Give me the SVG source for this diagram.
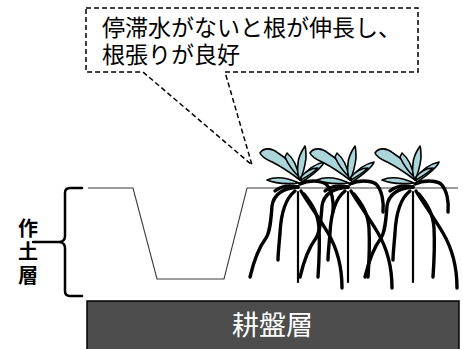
<svg xmlns="http://www.w3.org/2000/svg" xmlns:xlink="http://www.w3.org/1999/xlink" width="463" height="349" viewBox="0 0 463 349">
  <style>
    .callout { fill: #ffffff; stroke: #000000; stroke-width: 1.5; stroke-dasharray: 5 3; }
    .note { font-family: "Noto Sans CJK JP", "Noto Sans CJK SC", sans-serif; font-size: 23px; fill: #000000; }
    .side { font-family: "Noto Sans CJK JP", "Noto Sans CJK SC", sans-serif; font-size: 20px; font-weight: bold; fill: #000000; text-anchor: middle; }
    .pan-label { font-family: "Noto Sans CJK JP", "Noto Sans CJK SC", sans-serif; font-size: 27px; fill: #ffffff; text-anchor: middle; }
    .ground { fill: none; stroke: #3a3a3a; stroke-width: 1.1; }
    .brace { fill: none; stroke: #000000; stroke-width: 2.5; stroke-linecap: round; stroke-linejoin: round; }
    .root { fill: none; stroke: #000000; stroke-width: 3.4; stroke-linecap: round; }
    .root-thin { fill: none; stroke: #000000; stroke-width: 2.2; stroke-linecap: round; }
    .leaf { fill: #aad6da; stroke: #000000; stroke-width: 1.6; stroke-linejoin: round; }
  </style>
  <defs>
    <!-- one seedling, origin at the crown on the soil surface -->
    <g id="seedling">
      <g class="roots">
        <path class="root" d="M0,-1 C-12,0 -24,4 -26,18 C-27,32 -28,44 -32,50 C-38,58 -44,72 -48,89"/>
        <path class="root" stroke-width="5" d="M0,-1 C-8,-3 -17,-2 -23,3"/>
        <path class="root" d="M-3,3 C-12,10 -17,25 -18,45 C-19,58 -20,66 -20,72"/>
        <path class="root-thin" d="M0,4 V94"/>
        <path class="root" d="M3,3 C10,15 20,28 30,45 C40,62 44,80 44,100"/>
        <path class="root" d="M6,6 C14,16 20,25 21,40 C22,60 21,75 20,89"/>
        <path class="root" stroke-width="4.5" d="M2,-4 C10,-8 22,-8 28,-4 C34,2 36,14 35,24"/>
      </g>
      <g class="leaves">
        <path class="leaf" d="M-31,-8 C-22,-12 -10,-10 1,-5 C-10,-4 -22,-4 -31,-8 Z"/>
        <path class="leaf" d="M-38,-35 C-34,-41 -26,-40 -20,-35 C-12,-30 -4,-22 2,-14 L2,-8 C-6,-14 -14,-20 -24,-25 C-30,-28 -36,-30 -38,-35 Z"/>
        <path class="leaf" d="M-11,-35 C-5,-30 -1,-23 1,-11 C-5,-17 -10,-24 -13,-31 Z"/>
        <path class="leaf" d="M7,-42 C3,-36 0,-30 0,-24 C-1,-18 0,-12 2,-8 C5,-14 7,-22 8,-30 C8,-35 8,-39 7,-42 Z"/>
        <path class="leaf" d="M2,-9 C8,-17 16,-24 26,-26 C24,-20 16,-14 4,-6 Z"/>
        <path class="leaf" d="M3,-11 C8,-17 14,-20 20,-20 C16,-16 10,-12 3,-8 Z"/>
      </g>
    </g>
  </defs>

  <!-- soil surface with the open drainage ditch -->
  <path class="ground" d="M88,188 H133 L157,279 H224 L247,188 H458"/>

  <!-- hardpan layer -->
  <g id="hardpan">
    <rect x="87" y="301" width="372" height="52" fill="#4d4d4d" stroke="#000000" stroke-width="1.5"/>
    <text class="pan-label" x="272.5" y="335">耕盤層</text>
  </g>

  <!-- plough layer brace and label -->
  <g id="plough-layer">
    <path class="brace" d="M82,188 H70 Q65,188 65,193 V236 Q65,241 60,242 Q65,243 65,248 V291 Q65,296 70,296 H82"/>
    <path class="brace" d="M33,242 H60"/>
    <text class="side" x="28" y="236">作</text>
    <text class="side" x="28" y="259">土</text>
    <text class="side" x="28" y="283">層</text>
  </g>

  <!-- seedlings -->
  <g id="seedlings">
    <use xlink:href="#seedling" transform="translate(298,188)"/>
    <use xlink:href="#seedling" transform="translate(348,188)"/>
    <use xlink:href="#seedling" transform="translate(413,188)"/>
  </g>

  <!-- callout -->
  <g id="callout">
    <path class="callout" d="M86,8 H418 V72 H225 L252,165 L143,72 H86 Z"/>
    <text class="note" x="102" y="36">停滞水がないと根が伸長し、</text>
    <text class="note" x="102" y="63">根張りが良好</text>
  </g>
</svg>
